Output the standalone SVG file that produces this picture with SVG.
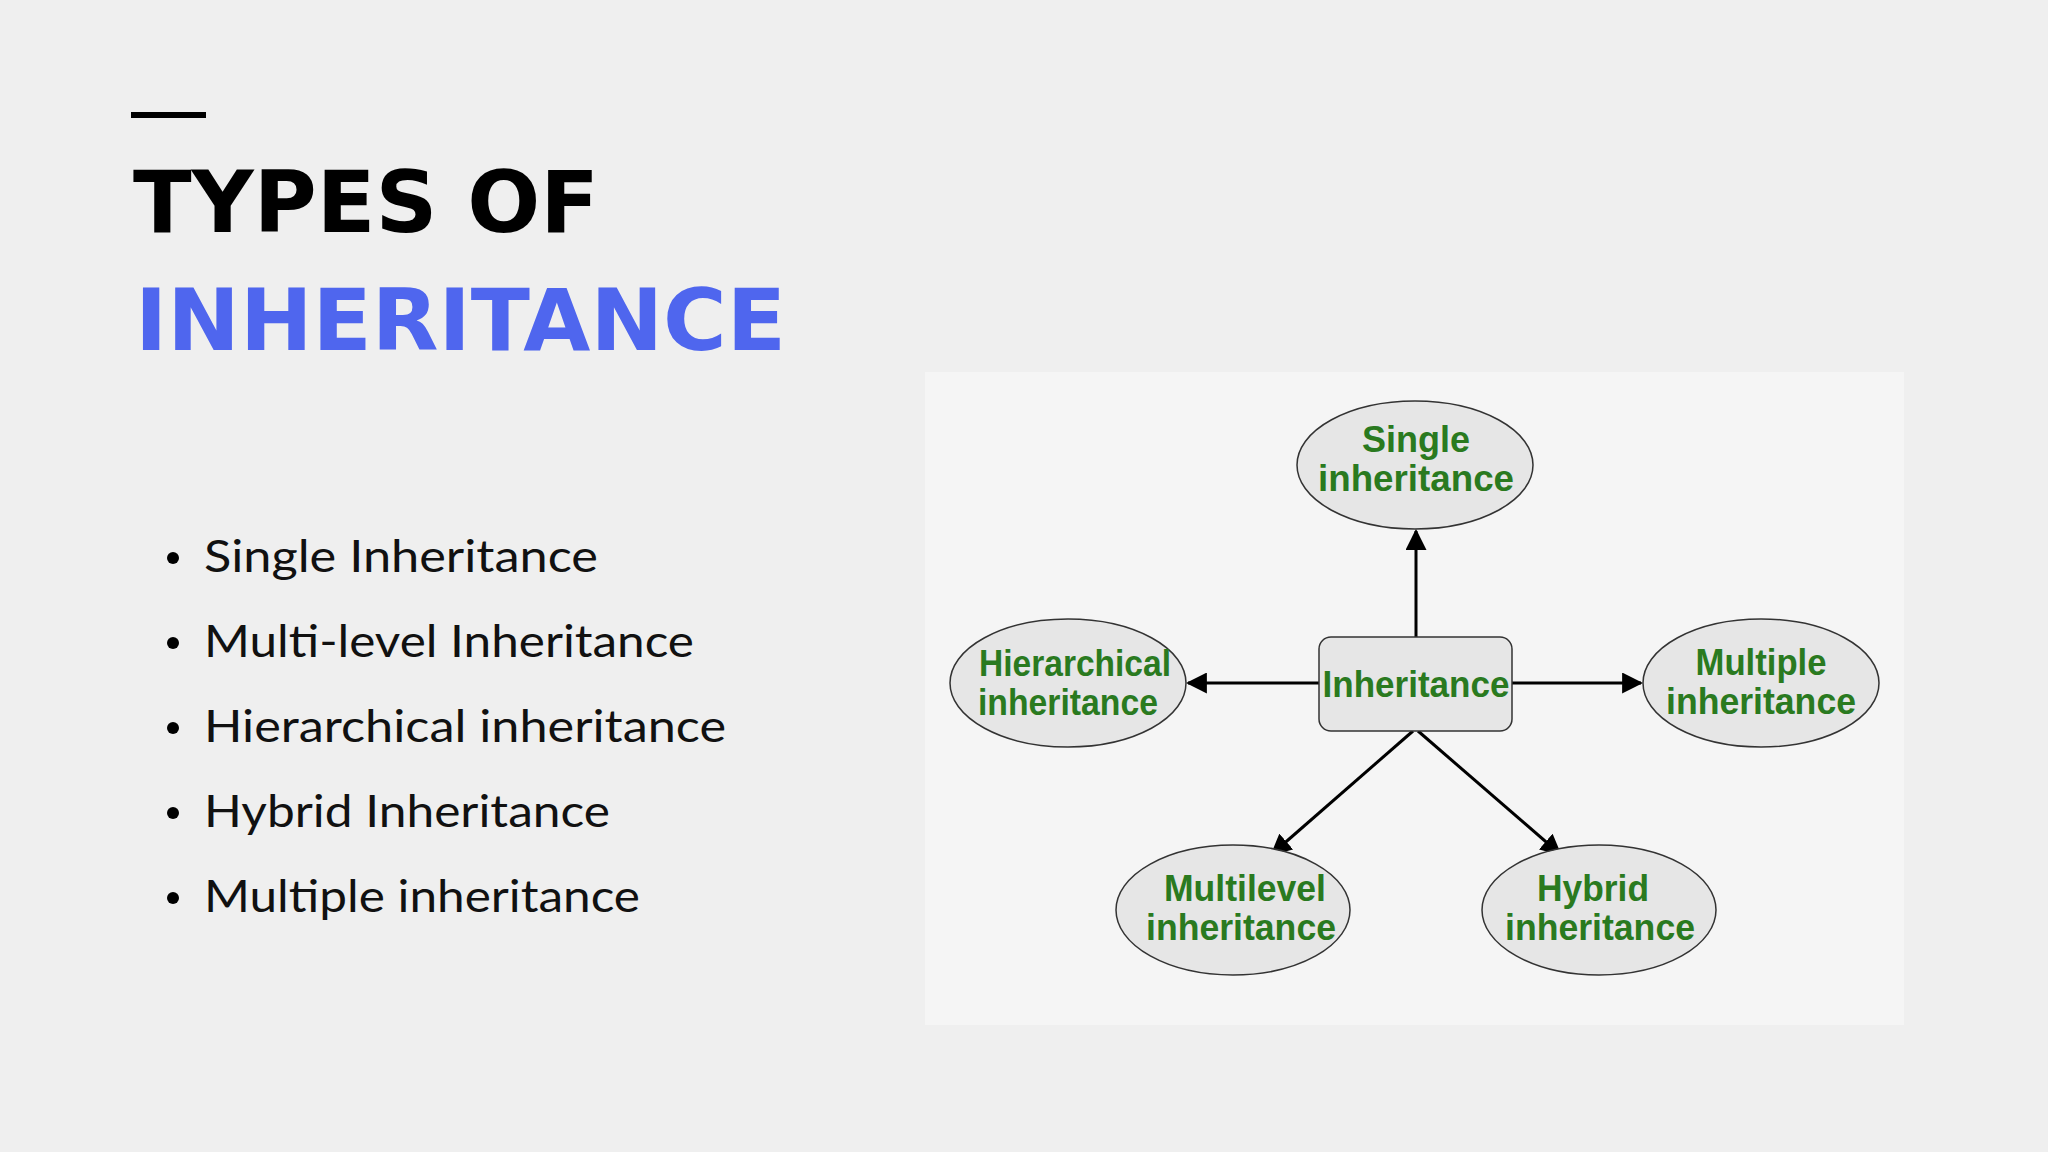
<svg xmlns="http://www.w3.org/2000/svg" width="2048" height="1152" viewBox="0 0 2048 1152">
<defs>
<marker id="ah" viewBox="0 0 10 10" refX="9" refY="5" markerWidth="7" markerHeight="7" orient="auto"><path d="M0,0 L10,5 L0,10 z" fill="#000"/></marker>
</defs>
<style>
.el{fill:#e6e6e6;stroke:#333;stroke-width:1.5}
.lbl{font-family:"Liberation Sans",Arial,sans-serif;font-weight:bold;font-size:37px;fill:#2a7a1f;text-anchor:middle}
.bul{font-family:"Lato","Open Sans",sans-serif;font-size:44px;fill:#111}
.con{stroke:#000;stroke-width:3;fill:none;marker-end:url(#ah)}
</style>
<rect width="2048" height="1152" fill="#efefef"/>
<rect x="131" y="112" width="75" height="6" fill="#000"/>
<text x="133" y="232" font-family="'DejaVu Sans',sans-serif" font-weight="bold" font-size="86" textLength="466" lengthAdjust="spacingAndGlyphs" fill="#000">TYPES OF</text>
<text x="135" y="350" font-family="'DejaVu Sans',sans-serif" font-weight="bold" font-size="86" textLength="651" lengthAdjust="spacingAndGlyphs" fill="#4f66ee">INHERITANCE</text>
<g id="bullets">
<circle cx="173" cy="558" r="6"/><text class="bul" x="204" y="572" textLength="394" lengthAdjust="spacingAndGlyphs">Single Inheritance</text>
<circle cx="173" cy="643" r="6"/><text class="bul" x="204" y="657" textLength="490" lengthAdjust="spacingAndGlyphs">Multi-level Inheritance</text>
<circle cx="173" cy="728" r="6"/><text class="bul" x="204" y="742" textLength="522" lengthAdjust="spacingAndGlyphs">Hierarchical inheritance</text>
<circle cx="173" cy="813" r="6"/><text class="bul" x="204" y="827" textLength="406" lengthAdjust="spacingAndGlyphs">Hybrid Inheritance</text>
<circle cx="173" cy="898" r="6"/><text class="bul" x="204" y="912" textLength="436" lengthAdjust="spacingAndGlyphs">Multiple inheritance</text>
</g>
<rect x="925" y="372" width="979" height="653" fill="#f5f5f5"/>
<g id="connectors">
<line class="con" x1="1416" y1="637" x2="1416" y2="531"/>
<line class="con" x1="1319" y1="683" x2="1188" y2="683"/>
<line class="con" x1="1512" y1="683" x2="1641" y2="683"/>
<line class="con" x1="1413" y1="731" x2="1272" y2="854"/>
<line class="con" x1="1418" y1="731" x2="1560" y2="854"/>
</g>
<g id="center"><rect x="1319" y="637" width="193" height="94" rx="12" class="el"/><text class="lbl" x="1416" y="697" textLength="187" lengthAdjust="spacingAndGlyphs">Inheritance</text></g>
<g id="single"><ellipse cx="1415" cy="465" rx="118" ry="64" class="el"/><text class="lbl" x="1416" y="452" textLength="108" lengthAdjust="spacingAndGlyphs">Single</text><text class="lbl" x="1416" y="491" textLength="196" lengthAdjust="spacingAndGlyphs">inheritance</text></g>
<g id="hierarchical"><ellipse cx="1068" cy="683" rx="118" ry="64" class="el"/><text class="lbl" x="1075" y="676" textLength="192" lengthAdjust="spacingAndGlyphs">Hierarchical</text><text class="lbl" x="1068" y="715" textLength="180" lengthAdjust="spacingAndGlyphs">inheritance</text></g>
<g id="multiple"><ellipse cx="1761" cy="683" rx="118" ry="64" class="el"/><text class="lbl" x="1761" y="675" textLength="131" lengthAdjust="spacingAndGlyphs">Multiple</text><text class="lbl" x="1761" y="714" textLength="190" lengthAdjust="spacingAndGlyphs">inheritance</text></g>
<g id="multilevel"><ellipse cx="1233" cy="910" rx="117" ry="65" class="el"/><text class="lbl" x="1245" y="901" textLength="162" lengthAdjust="spacingAndGlyphs">Multilevel</text><text class="lbl" x="1241" y="940" textLength="190" lengthAdjust="spacingAndGlyphs">inheritance</text></g>
<g id="hybrid"><ellipse cx="1599" cy="910" rx="117" ry="65" class="el"/><text class="lbl" x="1593" y="901" textLength="112" lengthAdjust="spacingAndGlyphs">Hybrid</text><text class="lbl" x="1600" y="940" textLength="190" lengthAdjust="spacingAndGlyphs">inheritance</text></g>
</svg>
